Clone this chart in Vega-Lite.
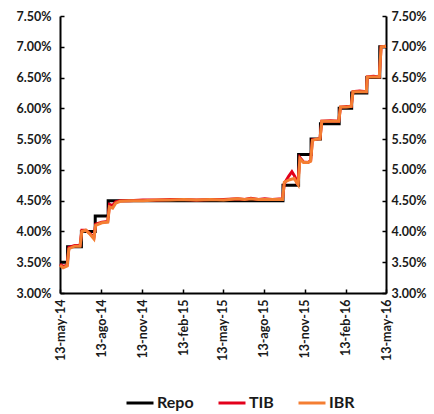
{
  "$schema": "https://vega.github.io/schema/vega-lite/v6.json",
  "autosize": {"type": "none"},
  "width": 326,
  "height": 277,
  "padding": {"left": 60, "top": 16, "right": 48, "bottom": 121},
  "background": "#ffffff",
  "config": {"view": {"stroke": null}, "font": "Lato"},
  "datasets": {
    "repo": [
      {"date": "2014-05-13", "series": "Repo", "rate": 3.50},
      {"date": "2014-05-30", "series": "Repo", "rate": 3.75},
      {"date": "2014-06-30", "series": "Repo", "rate": 4.00},
      {"date": "2014-07-31", "series": "Repo", "rate": 4.25},
      {"date": "2014-08-29", "series": "Repo", "rate": 4.50},
      {"date": "2015-09-25", "series": "Repo", "rate": 4.75},
      {"date": "2015-10-30", "series": "Repo", "rate": 5.25},
      {"date": "2015-11-27", "series": "Repo", "rate": 5.50},
      {"date": "2015-12-18", "series": "Repo", "rate": 5.75},
      {"date": "2016-01-29", "series": "Repo", "rate": 6.00},
      {"date": "2016-02-26", "series": "Repo", "rate": 6.25},
      {"date": "2016-03-31", "series": "Repo", "rate": 6.50},
      {"date": "2016-04-29", "series": "Repo", "rate": 7.00},
      {"date": "2016-05-13", "series": "Repo", "rate": 7.00}
    ],
    "rates": [
      {"date": "2014-05-13", "series": "TIB", "rate": 3.47},
      {"date": "2014-05-20", "series": "TIB", "rate": 3.43},
      {"date": "2014-05-29", "series": "TIB", "rate": 3.45},
      {"date": "2014-06-02", "series": "TIB", "rate": 3.74},
      {"date": "2014-06-15", "series": "TIB", "rate": 3.77},
      {"date": "2014-06-27", "series": "TIB", "rate": 3.77},
      {"date": "2014-07-01", "series": "TIB", "rate": 4.02},
      {"date": "2014-07-10", "series": "TIB", "rate": 4.02},
      {"date": "2014-07-20", "series": "TIB", "rate": 3.96},
      {"date": "2014-07-28", "series": "TIB", "rate": 3.90},
      {"date": "2014-08-01", "series": "TIB", "rate": 4.12},
      {"date": "2014-08-15", "series": "TIB", "rate": 4.15},
      {"date": "2014-08-28", "series": "TIB", "rate": 4.16},
      {"date": "2014-09-01", "series": "TIB", "rate": 4.44},
      {"date": "2014-09-08", "series": "TIB", "rate": 4.42},
      {"date": "2014-09-15", "series": "TIB", "rate": 4.48},
      {"date": "2014-09-25", "series": "TIB", "rate": 4.50},
      {"date": "2014-10-15", "series": "TIB", "rate": 4.50},
      {"date": "2014-11-15", "series": "TIB", "rate": 4.51},
      {"date": "2014-12-15", "series": "TIB", "rate": 4.51},
      {"date": "2015-01-15", "series": "TIB", "rate": 4.52},
      {"date": "2015-02-15", "series": "TIB", "rate": 4.52},
      {"date": "2015-03-15", "series": "TIB", "rate": 4.51},
      {"date": "2015-04-15", "series": "TIB", "rate": 4.52},
      {"date": "2015-05-15", "series": "TIB", "rate": 4.52},
      {"date": "2015-06-15", "series": "TIB", "rate": 4.53},
      {"date": "2015-07-01", "series": "TIB", "rate": 4.52},
      {"date": "2015-07-15", "series": "TIB", "rate": 4.54},
      {"date": "2015-08-01", "series": "TIB", "rate": 4.52},
      {"date": "2015-08-15", "series": "TIB", "rate": 4.53},
      {"date": "2015-09-01", "series": "TIB", "rate": 4.52},
      {"date": "2015-09-24", "series": "TIB", "rate": 4.53},
      {"date": "2015-09-28", "series": "TIB", "rate": 4.78},
      {"date": "2015-10-08", "series": "TIB", "rate": 4.90},
      {"date": "2015-10-15", "series": "TIB", "rate": 4.97},
      {"date": "2015-10-21", "series": "TIB", "rate": 4.90},
      {"date": "2015-10-28", "series": "TIB", "rate": 4.76},
      {"date": "2015-11-02", "series": "TIB", "rate": 5.20},
      {"date": "2015-11-10", "series": "TIB", "rate": 5.13},
      {"date": "2015-11-20", "series": "TIB", "rate": 5.12},
      {"date": "2015-11-26", "series": "TIB", "rate": 5.15},
      {"date": "2015-11-30", "series": "TIB", "rate": 5.49},
      {"date": "2015-12-10", "series": "TIB", "rate": 5.50},
      {"date": "2015-12-17", "series": "TIB", "rate": 5.51},
      {"date": "2015-12-21", "series": "TIB", "rate": 5.79},
      {"date": "2016-01-10", "series": "TIB", "rate": 5.80},
      {"date": "2016-01-28", "series": "TIB", "rate": 5.79},
      {"date": "2016-02-01", "series": "TIB", "rate": 6.02},
      {"date": "2016-02-15", "series": "TIB", "rate": 6.03},
      {"date": "2016-02-25", "series": "TIB", "rate": 6.03},
      {"date": "2016-02-29", "series": "TIB", "rate": 6.27},
      {"date": "2016-03-15", "series": "TIB", "rate": 6.28},
      {"date": "2016-03-30", "series": "TIB", "rate": 6.27},
      {"date": "2016-04-01", "series": "TIB", "rate": 6.51},
      {"date": "2016-04-15", "series": "TIB", "rate": 6.52},
      {"date": "2016-04-28", "series": "TIB", "rate": 6.51},
      {"date": "2016-05-02", "series": "TIB", "rate": 7.00},
      {"date": "2016-05-13", "series": "TIB", "rate": 7.01},
      {"date": "2014-05-13", "series": "IBR", "rate": 3.45},
      {"date": "2014-05-20", "series": "IBR", "rate": 3.41},
      {"date": "2014-05-29", "series": "IBR", "rate": 3.44},
      {"date": "2014-06-02", "series": "IBR", "rate": 3.72},
      {"date": "2014-06-15", "series": "IBR", "rate": 3.76},
      {"date": "2014-06-27", "series": "IBR", "rate": 3.76},
      {"date": "2014-07-01", "series": "IBR", "rate": 4.00},
      {"date": "2014-07-10", "series": "IBR", "rate": 4.02},
      {"date": "2014-07-20", "series": "IBR", "rate": 3.95},
      {"date": "2014-07-28", "series": "IBR", "rate": 3.88},
      {"date": "2014-08-01", "series": "IBR", "rate": 4.10},
      {"date": "2014-08-15", "series": "IBR", "rate": 4.14},
      {"date": "2014-08-28", "series": "IBR", "rate": 4.15},
      {"date": "2014-09-01", "series": "IBR", "rate": 4.40},
      {"date": "2014-09-08", "series": "IBR", "rate": 4.38},
      {"date": "2014-09-15", "series": "IBR", "rate": 4.46},
      {"date": "2014-09-25", "series": "IBR", "rate": 4.49},
      {"date": "2014-10-15", "series": "IBR", "rate": 4.50},
      {"date": "2014-11-15", "series": "IBR", "rate": 4.50},
      {"date": "2014-12-15", "series": "IBR", "rate": 4.51},
      {"date": "2015-01-15", "series": "IBR", "rate": 4.51},
      {"date": "2015-02-15", "series": "IBR", "rate": 4.52},
      {"date": "2015-03-15", "series": "IBR", "rate": 4.51},
      {"date": "2015-04-15", "series": "IBR", "rate": 4.52},
      {"date": "2015-05-15", "series": "IBR", "rate": 4.51},
      {"date": "2015-06-15", "series": "IBR", "rate": 4.53},
      {"date": "2015-07-01", "series": "IBR", "rate": 4.52},
      {"date": "2015-07-15", "series": "IBR", "rate": 4.53},
      {"date": "2015-08-01", "series": "IBR", "rate": 4.52},
      {"date": "2015-08-15", "series": "IBR", "rate": 4.52},
      {"date": "2015-09-01", "series": "IBR", "rate": 4.52},
      {"date": "2015-09-24", "series": "IBR", "rate": 4.52},
      {"date": "2015-09-28", "series": "IBR", "rate": 4.80},
      {"date": "2015-10-10", "series": "IBR", "rate": 4.84},
      {"date": "2015-10-20", "series": "IBR", "rate": 4.86},
      {"date": "2015-10-29", "series": "IBR", "rate": 4.76},
      {"date": "2015-11-02", "series": "IBR", "rate": 5.18},
      {"date": "2015-11-10", "series": "IBR", "rate": 5.12},
      {"date": "2015-11-20", "series": "IBR", "rate": 5.12},
      {"date": "2015-11-26", "series": "IBR", "rate": 5.14},
      {"date": "2015-11-30", "series": "IBR", "rate": 5.48},
      {"date": "2015-12-10", "series": "IBR", "rate": 5.50},
      {"date": "2015-12-17", "series": "IBR", "rate": 5.50},
      {"date": "2015-12-21", "series": "IBR", "rate": 5.79},
      {"date": "2016-01-10", "series": "IBR", "rate": 5.79},
      {"date": "2016-01-28", "series": "IBR", "rate": 5.79},
      {"date": "2016-02-01", "series": "IBR", "rate": 6.02},
      {"date": "2016-02-15", "series": "IBR", "rate": 6.02},
      {"date": "2016-02-25", "series": "IBR", "rate": 6.03},
      {"date": "2016-02-29", "series": "IBR", "rate": 6.27},
      {"date": "2016-03-15", "series": "IBR", "rate": 6.27},
      {"date": "2016-03-30", "series": "IBR", "rate": 6.27},
      {"date": "2016-04-01", "series": "IBR", "rate": 6.51},
      {"date": "2016-04-15", "series": "IBR", "rate": 6.51},
      {"date": "2016-04-28", "series": "IBR", "rate": 6.51},
      {"date": "2016-05-02", "series": "IBR", "rate": 7.00},
      {"date": "2016-05-13", "series": "IBR", "rate": 7.01}
    ]
  },
  "encoding": {
    "x": {
      "field": "date",
      "type": "temporal",
      "scale": {
        "type": "utc",
        "domain": [
          {"year": 2014, "month": 5, "date": 13, "utc": true},
          {"year": 2016, "month": 5, "date": 13, "utc": true}
        ]
      },
      "axis": {
        "title": null,
        "grid": false,
        "values": [
          {"year": 2014, "month": 5, "date": 13, "utc": true},
          {"year": 2014, "month": 8, "date": 13, "utc": true},
          {"year": 2014, "month": 11, "date": 13, "utc": true},
          {"year": 2015, "month": 2, "date": 13, "utc": true},
          {"year": 2015, "month": 5, "date": 13, "utc": true},
          {"year": 2015, "month": 8, "date": 13, "utc": true},
          {"year": 2015, "month": 11, "date": 13, "utc": true},
          {"year": 2016, "month": 2, "date": 13, "utc": true},
          {"year": 2016, "month": 5, "date": 13, "utc": true}
        ],
        "labelExpr": "'13-' + ['ene','feb','mar','abr','may','jun','jul','ago','sep','oct','nov','dic'][utcmonth(datum.value)] + '-' + utcFormat(datum.value, '%y')",
        "labelAngle": -90,
        "labelAlign": "right",
        "labelBaseline": "middle",
        "labelFont": "Lato",
        "labelFontWeight": "bold",
        "labelFontSize": 12.5,
        "labelColor": "#1a1a1a",
        "labelPadding": 10,
        "labelFlush": false,
        "labelOverlap": false,
        "domainColor": "#000000",
        "domainWidth": 2,
        "tickColor": "#000000",
        "tickSize": -4,
        "tickWidth": 1.5
      }
    },
    "y": {
      "field": "rate",
      "type": "quantitative",
      "scale": {"domain": [3, 7.5], "nice": false, "zero": false}
    },
    "color": {
      "field": "series",
      "type": "nominal",
      "scale": {"domain": ["Repo", "TIB", "IBR"], "range": ["#000000", "#e3001b", "#f47e32"]},
      "legend": {
        "title": null,
        "orient": "none",
        "direction": "horizontal",
        "legendX": 65,
        "legendY": 372,
        "symbolType": "stroke",
        "symbolSize": 729,
        "symbolStrokeWidth": 3,
        "labelFont": "Lato",
        "labelFontWeight": "bold",
        "labelFontSize": 16,
        "labelColor": "#1a1a1a",
        "labelOffset": 2,
        "columnPadding": 18
      }
    }
  },
  "layer": [
    {
      "data": {"name": "repo"},
      "mark": {"type": "line", "interpolate": "step-after", "strokeWidth": 3},
      "encoding": {
        "y": {
          "field": "rate",
          "type": "quantitative",
          "scale": {"domain": [3, 7.5], "nice": false, "zero": false},
          "axis": {
            "title": null,
            "grid": false,
            "orient": "left",
            "values": [3, 3.5, 4, 4.5, 5, 5.5, 6, 6.5, 7, 7.5],
            "labelExpr": "format(datum.value, '.2f') + '%'",
            "labelFont": "Lato",
            "labelFontWeight": "bold",
            "labelFontSize": 12.5,
            "labelColor": "#1a1a1a",
            "labelPadding": 13,
            "labelFlush": false,
            "domainColor": "#000000",
            "domainWidth": 2,
            "tickColor": "#000000",
            "tickSize": -4,
            "tickWidth": 1.5
          }
        }
      }
    },
    {
      "data": {"name": "rates"},
      "mark": {"type": "line", "strokeWidth": 3},
      "encoding": {
        "y": {
          "field": "rate",
          "type": "quantitative",
          "scale": {"domain": [3, 7.5], "nice": false, "zero": false},
          "axis": {
            "title": null,
            "grid": false,
            "orient": "right",
            "values": [3, 3.5, 4, 4.5, 5, 5.5, 6, 6.5, 7, 7.5],
            "labelExpr": "format(datum.value, '.2f') + '%'",
            "labelFont": "Lato",
            "labelFontWeight": "bold",
            "labelFontSize": 12.5,
            "labelColor": "#1a1a1a",
            "labelPadding": 9,
            "labelFlush": false,
            "domainColor": "#000000",
            "domainWidth": 2,
            "tickColor": "#000000",
            "tickSize": -4,
            "tickWidth": 1.5
          }
        }
      }
    }
  ],
  "resolve": {"axis": {"y": "independent"}}
}
